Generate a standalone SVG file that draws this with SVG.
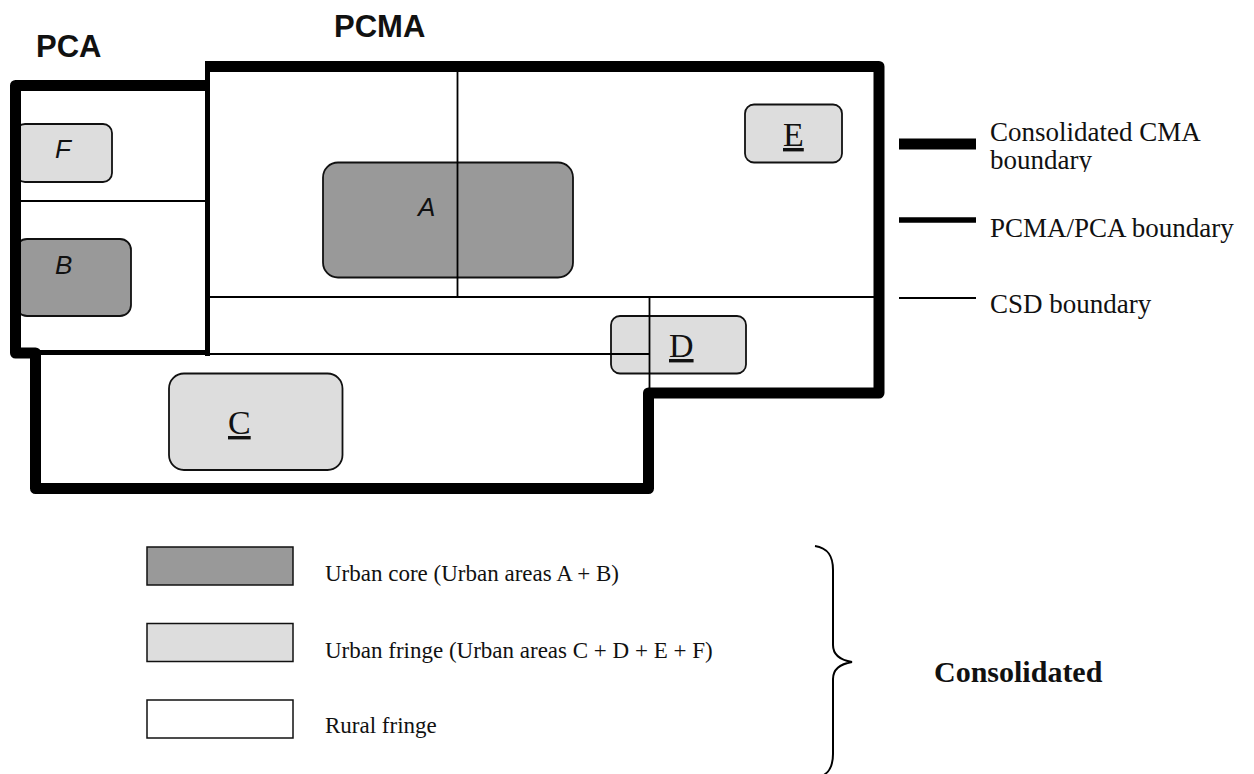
<svg xmlns="http://www.w3.org/2000/svg" width="1254" height="774" viewBox="0 0 1254 774">
<style>
.core{fill:#999999;stroke:#111;stroke-width:1.8}
.fringe{fill:#dddddd;stroke:#111;stroke-width:1.8}
.thick{fill:none;stroke:#000;stroke-width:11;stroke-linejoin:round}
.med{fill:none;stroke:#000;stroke-width:5}
.thin{fill:none;stroke:#000;stroke-width:1.8}
.it{font-family:"Liberation Sans",Arial,sans-serif;font-style:italic;font-size:26px;fill:#111}
.ser{font-family:"Liberation Serif","Times New Roman",serif;font-size:34px;fill:#111;text-decoration:underline}
.hdr{font-family:"Liberation Sans",Arial,sans-serif;font-weight:bold;font-size:31px;fill:#111}
.lg{font-family:"Liberation Serif","Times New Roman",serif;font-size:27px;fill:#111}
.lg2{font-family:"Liberation Serif","Times New Roman",serif;font-size:23px;fill:#111}
</style>
<defs>
<clipPath id="clipB"><rect x="980" y="100" width="274" height="72"/></clipPath>
</defs>
<rect width="1254" height="774" fill="#fff"/>
<text class="hdr" x="36" y="57">PCA</text>
<text class="hdr" x="334" y="37">PCMA</text>
<g id="urban-F">
<rect class="fringe" x="16" y="124" width="96" height="58" rx="9"/>
<text class="it" x="55" y="158">F</text>
</g>
<g id="urban-B">
<rect class="core" x="16" y="239" width="115" height="77" rx="11"/>
<text class="it" x="55" y="274">B</text>
</g>
<g id="urban-A">
<rect class="core" x="323" y="162.5" width="250" height="115" rx="15"/>
<text class="it" x="418" y="216">A</text>
</g>
<g id="urban-E">
<rect class="fringe" x="745" y="104.5" width="97" height="58" rx="9"/>
<text class="ser" x="783" y="146">E</text>
</g>
<g id="urban-D">
<rect class="fringe" x="611" y="316" width="135" height="57.5" rx="9"/>
<text class="ser" x="669" y="357">D</text>
</g>
<g id="urban-C">
<rect class="fringe" x="169" y="373.5" width="173.5" height="96.5" rx="15"/>
<text class="ser" x="228" y="434">C</text>
</g>
<g id="connectors">
<path class="thin" d="M21 201H205M457.5 72V297M210 297H874M649.5 297V388M210 354H649.5"/>
<path class="med" d="M207.5 61V356M20 352.5H210"/>
<path class="thick" d="M207 85.5H15.5V353H35.5V488.5H648.5V393H879V66.5H207"/>
</g>
<g id="legend-lines">
<line x1="899" y1="144" x2="976" y2="144" stroke="#000" stroke-width="11"/>
<text class="lg" x="990" y="141">Consolidated CMA</text>
<text class="lg" x="990" y="169" clip-path="url(#clipB)">boundary</text>
<line x1="899" y1="220" x2="976" y2="220" stroke="#000" stroke-width="5.5"/>
<text class="lg" x="990" y="237">PCMA/PCA boundary</text>
<line x1="899" y1="298" x2="976" y2="298" stroke="#000" stroke-width="2"/>
<text class="lg" x="990" y="313">CSD boundary</text>
</g>
<g id="legend-areas">
<rect class="core" x="147" y="547" width="146" height="38" style="stroke-width:1.5"/>
<text class="lg2" x="325" y="581">Urban core (Urban areas A + B)</text>
<rect class="fringe" x="147" y="623.5" width="146" height="38" style="stroke-width:1.5"/>
<text class="lg2" x="325" y="658">Urban fringe (Urban areas C + D + E + F)</text>
<rect x="147" y="700" width="146" height="38" fill="#fff" stroke="#111" stroke-width="1.5"/>
<text class="lg2" x="325" y="733">Rural fringe</text>
</g>
<g id="brace">
<path d="M815 546 C828 548 833 556 833 570 V645 C833 655 840 660 852 662 C840 664 833 669 833 679 V754 C833 768 828 776 815 778" fill="none" stroke="#000" stroke-width="2"/>
<text x="934" y="682" font-family="'Liberation Serif','Times New Roman',serif" font-weight="bold" font-size="30" fill="#111">Consolidated</text>
</g>
</svg>
